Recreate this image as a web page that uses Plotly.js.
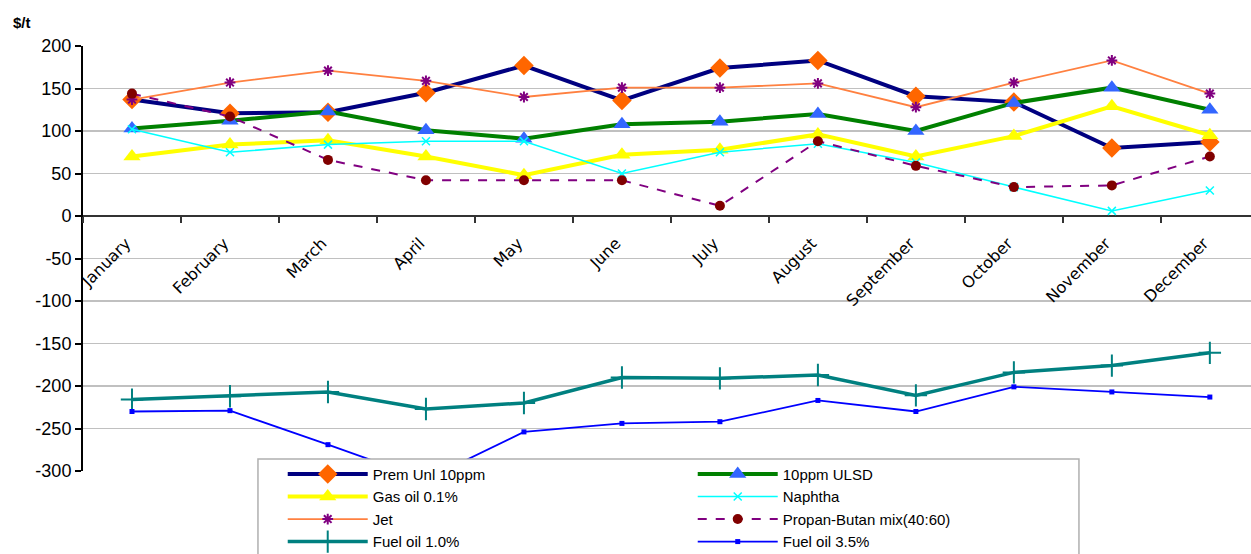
<!DOCTYPE html>
<html>
<head>
<meta charset="utf-8">
<script src="https://cdn.plot.ly/plotly-3.0.1.min.js"></script>
<style>html,body{margin:0;padding:0;background:#fff;}#chart{width:1251px;height:554px;}</style>
</head>
<body>
<div id="chart"></div>
<script>
const months = ["January","February","March","April","May","June","July","August","September","October","November","December"];
const premUnl = [137, 121, 122, 145, 177, 136, 174, 183, 141, 134, 80, 87];
const ulsd = [103, 112, 123, 101, 91, 108, 111, 120, 100, 133, 151, 125];
const gasoil = [70, 84, 89, 70, 48, 72, 78, 96, 70, 94, 129, 95];
const naphtha = [102, 75, 84, 88, 88, 50, 75, 85, 63, 34, 6, 30];
const jet = [137, 157, 171, 159, 140, 151, 151, 156, 128, 157, 183, 144];
const propanButan = [144, 117, 66, 42, 42, 42, 12, 88, 59, 34, 36, 70];
const fuel10 = [-216, -212, -207, -227, -220, -190, -191, -187, -211, -184, -176, -161];
const fuel35 = [-230, -229, -269, -310, -254, -244, -242, -217, -230, -201, -207, -213];
const yTicks = [-300, -250, -200, -150, -100, -50, 0, 50, 100, 150, 200];
const yTickText = yTicks.map(v => String(v));

const traces = [
  {name: "Prem Unl 10ppm", y: premUnl, line: {color: "#000080", width: 4}, marker: {symbol: "diamond", color: "#FF6600", size: 15}},
  {name: "10ppm ULSD", y: ulsd, line: {color: "#008000", width: 4}, marker: {symbol: "triangle-up", color: "#3366FF", size: 15}},
  {name: "Gas oil 0.1%", y: gasoil, line: {color: "#FFFF00", width: 4}, marker: {symbol: "triangle-up", color: "#FFFF00", size: 15}},
  {name: "Naphtha", y: naphtha, line: {color: "#00FFFF", width: 1.5}, marker: {symbol: "x-thin", color: "#00FFFF", size: 8, line: {color: "#00FFFF", width: 1.5}}},
  {name: "Jet", y: jet, line: {color: "#FF8040", width: 1.8}, marker: {symbol: "asterisk", color: "#800080", size: 9, line: {color: "#800080", width: 2}}},
  {name: "Propan-Butan mix(40:60)", y: propanButan, line: {color: "#800080", width: 2, dash: "dash"}, marker: {symbol: "circle", color: "#800000", size: 10}},
  {name: "Fuel oil 1.0%", y: fuel10, line: {color: "#008080", width: 3.5}, marker: {symbol: "cross-thin", color: "#008080", size: 16, line: {color: "#008080", width: 2}}},
  {name: "Fuel oil 3.5%", y: fuel35, line: {color: "#0000FF", width: 1.8}, marker: {symbol: "square", color: "#0000FF", size: 5}}
].map(t => Object.assign({x: months, type: "scatter", mode: "lines+markers", cliponaxis: true}, t));

const layout = {
  width: 1251, height: 554,
  margin: {l: 83, r: 0, t: 46, b: 83, autoexpand: false},
  paper_bgcolor: "#fff", plot_bgcolor: "#fff",
  font: {family: "Liberation Sans, Arial, sans-serif", color: "#000"},
  showlegend: true,
  xaxis: {
    type: "category", range: [-0.5, 11.42],
    anchor: "free", position: 0.6,
    showline: false, showgrid: false, zeroline: false,
    ticks: "outside", ticklen: 6, tickwidth: 2, tickcolor: "#333", tickson: "boundaries",
    tickangle: -45, ticklabelstandoff: 14, ticklabelshift: -6,
    tickfont: {size: 16, color: "#000", family: "DejaVu Sans, sans-serif"}
  },
  yaxis: {
    range: [-300, 200], tickvals: yTicks, ticktext: yTickText,
    showline: true, linecolor: "#000", linewidth: 2,
    ticks: "outside", ticklen: 6, tickwidth: 2, tickcolor: "#000",
    showgrid: true, gridcolor: "#C0C0C0", gridwidth: 1.5,
    zeroline: true, zerolinecolor: "#333", zerolinewidth: 2.5,
    tickfont: {size: 18, color: "#000"}
  },
  legend: {
    orientation: "h", x: 0.171, xanchor: "left", y: 0.031, yanchor: "top",
    bgcolor: "rgba(0,0,0,0)", borderwidth: 0,
    entrywidth: 315, entrywidthmode: "pixels", itemwidth: 80,
    font: {size: 15, color: "#000"}, tracegroupgap: 0
  },
  shapes: [
    {type: "rect", xref: "paper", yref: "paper", x0: 0.1498, x1: 0.8527, y0: 0.0282, y1: -0.3, layer: "above",
     fillcolor: "#fff", line: {color: "#B0B0B0", width: 1.5}}
  ],
  annotations: [
    {text: "$/t", xref: "paper", yref: "paper", x: -0.062, y: 1.03, xanchor: "left", yanchor: "bottom", showarrow: false, font: {size: 15, color: "#000", weight: "bold"}}
  ]
};

Plotly.newPlot("chart", traces, layout, {displayModeBar: false, staticPlot: true});
</script>
</body>
</html>
